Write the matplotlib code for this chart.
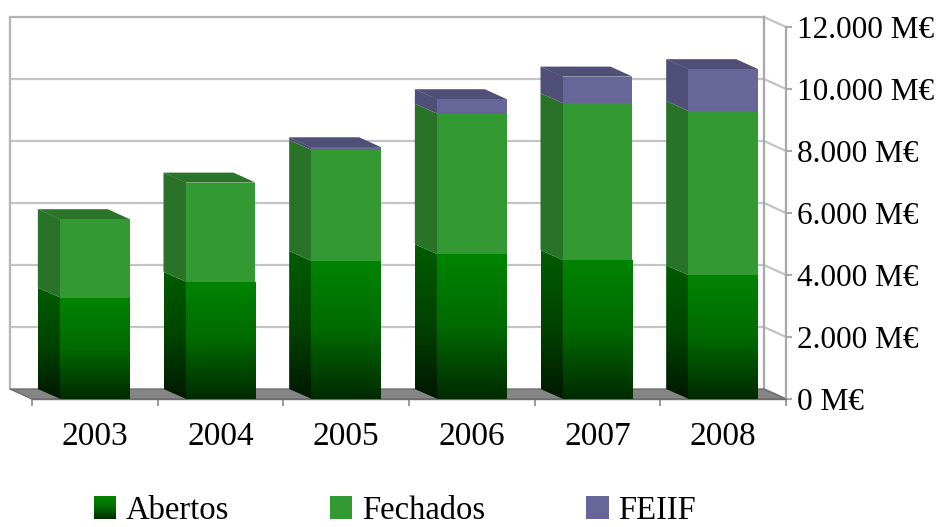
import numpy as np
import matplotlib
matplotlib.use("Agg")
import matplotlib.pyplot as plt
from matplotlib.patches import Polygon, Rectangle, Patch
from matplotlib.colors import LinearSegmentedColormap
from matplotlib.legend_handler import HandlerBase

# ---- data ----
years = ["2003", "2004", "2005", "2006", "2007", "2008"]
abertos = [3270, 3780, 4450, 4670, 4480, 3990]
fechados = [2530, 3200, 3580, 4530, 5060, 5300]
feiif = [0, 0, 90, 470, 860, 1350]
series_names = ["Abertos", "Fechados", "FEIIF"]
yticks = [0, 2000, 4000, 6000, 8000, 10000, 12000]
ytick_labels = ["0 M€", "2.000 M€", "4.000 M€", "6.000 M€", "8.000 M€", "10.000 M€", "12.000 M€"]

plt.rcParams["font.family"] = ["Liberation Serif", "DejaVu Serif"]
FS_Y = 22.5
FS_X = 24
FS_L = 23.5

W, H = 937, 527
fig = plt.figure(figsize=(W / 100, H / 100), dpi=100)
ax = fig.add_axes([32 / W, 128 / H, 754 / W, 372 / H])
n = len(years)
ymax = yticks[-1]
ax.set_xlim(0, n)
ax.set_ylim(0, ymax)

# depth offset (back is up-left) in data units
DX = 22 / (ax.bbox.width / n)
DY = 10 / (ax.bbox.height / ymax)

wall_c = "#b4b4b4"
grid_c = "#c4c4c4"
for v in yticks:
    c = wall_c if v in (0, ymax) else grid_c
    if v > 0:
        ax.plot([-DX, n - DX], [v + DY, v + DY], color=c, lw=1.6, zorder=1, clip_on=False)
    ax.plot([n - DX, n], [v + DY, v], color=grid_c, lw=1.6, zorder=1, clip_on=False)
ax.plot([-DX, -DX], [DY, ymax + DY], color=wall_c, lw=1.6, zorder=1, clip_on=False)
ax.plot([n - DX, n - DX], [DY, ymax + DY], color="#a8a8a8", lw=1.6, zorder=1, clip_on=False)

# floor
floor = Polygon([(0, 0), (n, 0), (n - DX, DY), (-DX, DY)], closed=True,
                fc="#858585", ec="#6e6e6e", lw=1.0, zorder=2, clip_on=False)
ax.add_patch(floor)

ab_front = LinearSegmentedColormap.from_list("abf", ["#002a00", "#006a00", "#008400"])
ab_side = LinearSegmentedColormap.from_list("abs", ["#001800", "#004400", "#005c00"])
grad = np.linspace(0, 1, 256).reshape(-1, 1)

styles = [
    dict(front=None, side=None, top="#006000"),
    dict(front="#339933", side="#287328", top="#2a752a"),
    dict(front="#666699", side="#4f4f77", top="#4f4f77"),
]

bw = 0.557
ov = 0.006  # small overlap to avoid seams between faces
series = [abertos, fechados, feiif]
for i in range(n):
    xl = i + 0.5 - bw / 2
    xr = xl + bw
    base = 0
    top_idx = max(k for k in range(3) if series[k][i] > 0)
    for k in range(3):
        val = series[k][i]
        if val <= 0:
            continue
        y0, y1 = base, base + val
        st = styles[k]
        side = Polygon([(xl + ov, y0), (xl + ov, y1), (xl - DX, y1 + DY), (xl - DX, y0 + DY)],
                       closed=True, lw=0, zorder=3, clip_on=False,
                       fc=st["side"] if st["side"] else "none")
        front = Rectangle((xl, y0), bw, val, lw=0, zorder=3.2, clip_on=False,
                          fc=st["front"] if st["front"] else "none")
        ax.add_patch(side)
        ax.add_patch(front)
        if k == 0:
            im2 = ax.imshow(grad, extent=(xl - DX, xl + ov, y0, y1 + DY), origin="lower", cmap=ab_side,
                            aspect="auto", zorder=3, interpolation="bilinear")
            im2.set_clip_path(side)
            im1 = ax.imshow(grad, extent=(xl, xr, y0, y1), origin="lower", cmap=ab_front,
                            aspect="auto", zorder=3.2, interpolation="bilinear")
            im1.set_clip_path(front)
        if k == top_idx:
            topf = Polygon([(xl, y1), (xr, y1), (xr - DX, y1 + DY), (xl - DX, y1 + DY)],
                           closed=True, lw=0, fc=st["top"], zorder=3, clip_on=False)
            ax.add_patch(topf)
        base = y1

ax.set_xlim(0, n)
ax.set_ylim(0, ymax)

# axes styling
for s in ("left", "top"):
    ax.spines[s].set_visible(False)
ax.spines["right"].set_color("#a8a8a8")
ax.spines["right"].set_linewidth(1.6)
ax.spines["bottom"].set_color("#6e6e6e")
ax.spines["bottom"].set_linewidth(1.0)
ax.yaxis.tick_right()
ax.set_yticks(yticks)
ax.set_yticklabels(ytick_labels, fontsize=FS_Y)
ax.tick_params(axis="y", length=4, width=1.4, color="#a8a8a8", pad=4)
ax.set_xticks(np.arange(n + 1))
ax.set_xticklabels([])
ax.set_xticks(np.arange(n) + 0.5, minor=True)
ax.set_xticklabels(years, minor=True, fontsize=FS_X)
ax.tick_params(axis="x", which="major", length=5, width=1.2, color="#8a8a8a")
ax.tick_params(axis="x", which="minor", length=0, pad=16)
ax.set_facecolor("none")


class GradHandler(HandlerBase):
    def create_artists(self, legend, orig_handle, xdescent, ydescent, width, height, fontsize, trans):
        arts = []
        m = 12
        for j in range(m):
            c = ab_front((j + 0.5) / m)
            r = Rectangle((-xdescent, -ydescent + height * j / m), width, height / m + 0.3,
                          fc=c, ec="none", transform=trans)
            arts.append(r)
        return arts


h_ab = Patch(fc="#006000")
h_fe = Patch(fc="#339933")
h_fi = Patch(fc="#666699")
leg = fig.legend([h_ab, h_fe, h_fi], series_names, loc="center", bbox_to_anchor=(0.4215, 0.031),
                 ncol=3, frameon=False, fontsize=FS_L, handlelength=0.68, handleheight=0.68,
                 handletextpad=0.3, columnspacing=3.1, borderaxespad=0, borderpad=0.1,
                 handler_map={h_ab: GradHandler()})

fig.savefig("out.png", dpi=100)
